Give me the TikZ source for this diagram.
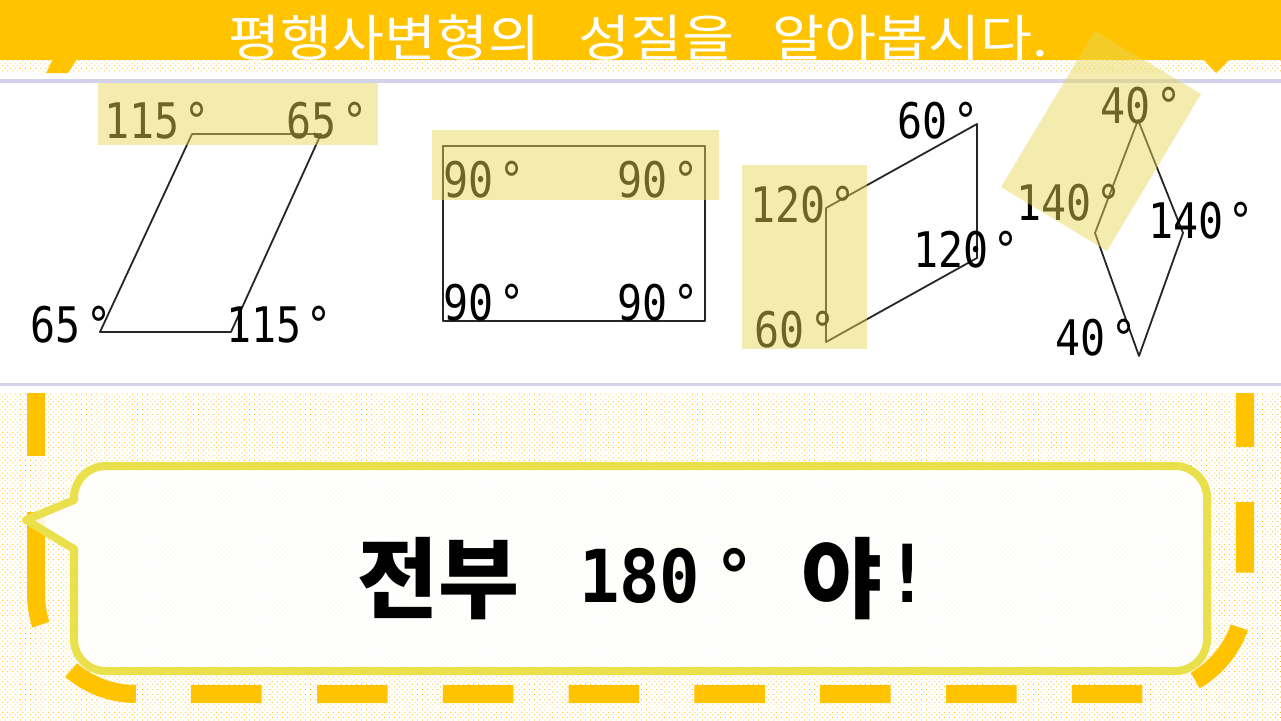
\documentclass[tikz,border=0pt]{standalone}
\usepackage{fontspec}
\usepackage{tikz}
\usepackage{xcolor}
\usetikzlibrary{patterns.meta, positioning}

\newfontfamily\titlefont[FakeStretch=1.13]{Noto Sans CJK KR}
\newfontfamily\hanfont{Noto Sans CJK KR}
\newfontfamily\anglefont[FakeStretch=0.85]{DejaVu Sans Mono}
\newfontfamily\numfont[FakeStretch=0.92]{DejaVu Sans Mono}

\definecolor{bannerorange}{RGB}{255,195,0}
\definecolor{panelline}{RGB}{210,210,232}
\definecolor{hiliteyellow}{RGB}{233,215,87}
\definecolor{bubbleline}{RGB}{234,224,76}

\newcommand{\dg}{\kern5pt°}

\tikzset{
  angletext/.style={font=\anglefont\fontsize{49}{49}\selectfont, anchor=base, inner sep=0pt},
  shapeline/.style={draw=black!85, line width=1.8pt, line join=round},
  hilite/.style={fill=hiliteyellow, fill opacity=0.47},
  dashborder/.style={draw=bannerorange, line width=18pt, dash pattern=on 70.5pt off 55.3pt}
}

\begin{document}
\begin{tikzpicture}[x=1pt, y=-1pt]
  \useasboundingbox (0,0) rectangle (1281,720);

  % background
  \fill[white] (0,0) rectangle (1281,720);
  \fill[pattern={Dots[distance=3.6pt, angle=45, radius=0.6pt]}, pattern color=bannerorange] (0,0) rectangle (1281,720);
  \fill[white] (0,73) rectangle (1281,393);
  \draw[panelline, line width=3.5pt] (0,81) -- (1281,81);
  \draw[panelline, line width=3.5pt] (0,384.5) -- (1281,384.5);

  % banner
  \fill[bannerorange] (0,0) rectangle (1281,60);
  \fill[bannerorange] (53,59) -- (77,59) -- (68,73) -- (46,73) -- cycle;
  \fill[bannerorange] (1203,59) -- (1230,59) -- (1216,73) -- cycle;
  \node[font=\titlefont\fontsize{50}{50}\selectfont, text=white, anchor=base, inner sep=0pt] (title) at (638,56) {\spaceskip=38pt 평행사변형의 성질을 알아봅시다.};

  % parallelogram 115/65
  \coordinate (pa) at (192,134);
  \coordinate (pb) at (321,134);
  \coordinate (pc) at (231,332);
  \coordinate (pd) at (100,332);
  \draw[shapeline] (pa) -- (pb) -- (pc) -- (pd) -- cycle;
  \node[angletext] (pa1) at (157,138) {115\dg};
  \node[angletext] (pb1) at (327,138) {65\dg};
  \node[angletext] (pc1) at (279,342) {115\dg};
  \node[angletext] (pd1) at (71,342) {65\dg};

  % rectangle
  \coordinate (ra) at (443,146);
  \coordinate (rc) at (705,321);
  \draw[shapeline] (ra) rectangle (rc);
  \node[angletext] (ra1) at (484,197) {90\dg};
  \node[angletext] (rb1) at (658,197) {90\dg};
  \node[angletext] (rc1) at (658,320) {90\dg};
  \node[angletext] (rd1) at (484,320) {90\dg};

  % parallelogram 60/120
  \coordinate (qa) at (826,208);
  \coordinate (qb) at (977,124);
  \coordinate (qc) at (977,258);
  \coordinate (qd) at (826,342);
  \draw[shapeline] (qa) -- (qb) -- (qc) -- (qd) -- cycle;
  \node[angletext] (qa1) at (803,222) {120\dg};
  \node[angletext] (qb1) at (938,138) {60\dg};
  \node[angletext] (qc1) at (966,267) {120\dg};
  \node[angletext] (qd1) at (795,347) {60\dg};

  % rhombus
  \coordinate (ma) at (1138,120);
  \coordinate (mb) at (1183,233);
  \coordinate (mc) at (1139,356);
  \coordinate (md) at (1095,233);
  \draw[shapeline] (ma) -- (mb) -- (mc) -- (md) -- cycle;
  \node[angletext] (ma1) at (1141,123) {40\dg};
  \node[angletext] (mb1) at (1201,238) {140\dg};
  \node[angletext] (mc1) at (1096,355) {40\dg};
  \node[angletext] (md1) at (1069,220) {140\dg};

  % highlights
  \fill[hilite] (98,83) rectangle (378,145);
  \fill[hilite] (432,130) rectangle (719,200);
  \fill[hilite] (742,165) rectangle (867,349);
  \fill[hilite] (1095,31) -- (1201,94) -- (1107,251) -- (1001,187) -- cycle;

  % dashed frame
  \draw[dashborder, dash phase=27.3pt, rounded corners=100pt] (36,582) -- (36,694) -- (1245,694) -- (1245,393);
  \draw[dashborder] (36,582) -- (36,393);

  % speech bubble
  \draw[draw=bubbleline, line width=8pt, fill=white, fill opacity=0.85, line join=round]
    (74,500) -- (74,498) .. controls (74,480.3) and (88.3,466) .. (106,466)
    -- (1175,466) .. controls (1192.7,466) and (1207,480.3) .. (1207,498)
    -- (1207,639) .. controls (1207,656.7) and (1192.7,671) .. (1175,671)
    -- (106,671) .. controls (88.3,671) and (74,656.7) .. (74,639)
    -- (74,549) -- (26,520) -- cycle;
  \node[anchor=base west, inner sep=0pt] (answer) at (357,611)
    {{\hanfont\bfseries\fontsize{88}{88}\selectfont 전부}\hspace{60pt}\raisebox{9pt}{\numfont\bfseries\fontsize{73}{73}\selectfont 180\kern14pt°}\hspace{47pt}{\hanfont\bfseries\fontsize{88}{88}\selectfont 야}\kern3pt\raisebox{9pt}{\numfont\bfseries\fontsize{80}{80}\selectfont !}};
\end{tikzpicture}
\end{document}
